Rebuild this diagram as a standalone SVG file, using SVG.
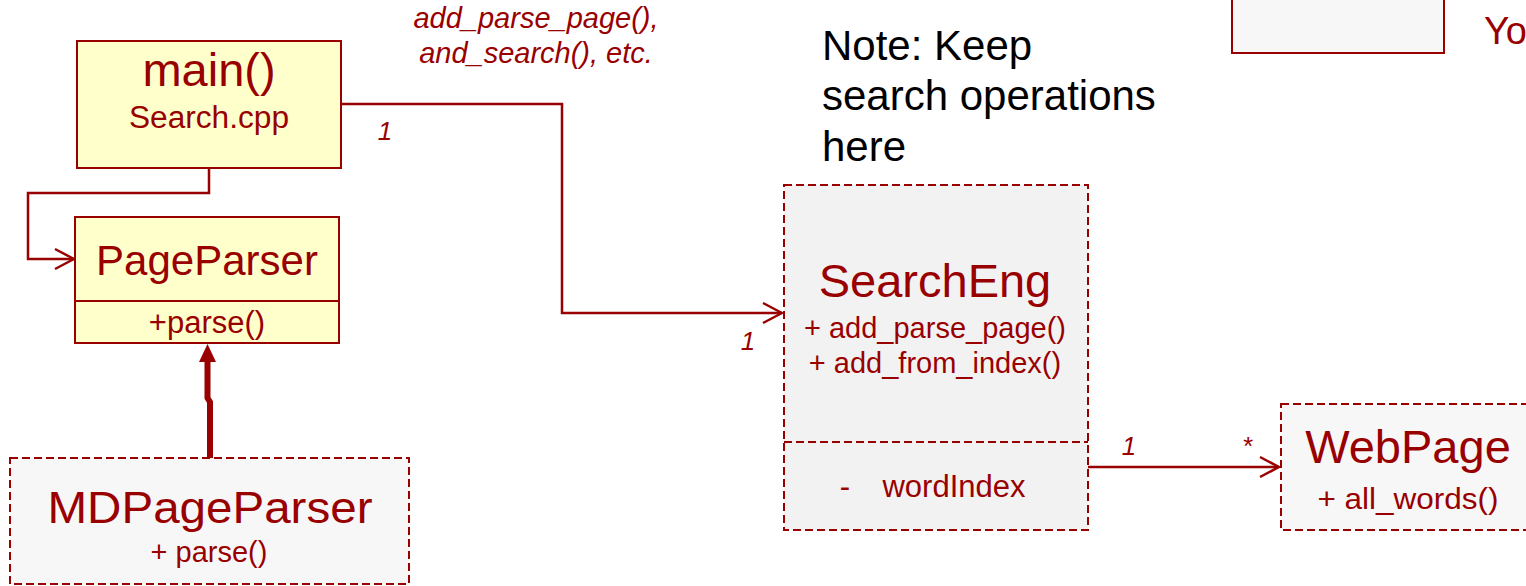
<svg xmlns="http://www.w3.org/2000/svg" width="1526" height="586" viewBox="0 0 1526 586">
<style>
text{font-family:"Liberation Sans",Arial,sans-serif;fill:#990000;text-anchor:middle}
.solid{stroke:#990000;stroke-width:2}
.yel{fill:#FFFFCC}
.dash{stroke:#990000;stroke-width:2;stroke-dasharray:8 4}
.conn{fill:none;stroke:#990000;stroke-width:2.5}
.lbl{font-style:italic;font-size:26px}
.note{fill:#000;text-anchor:start;font-size:42px}
</style>
<defs>
<marker id="open" markerUnits="userSpaceOnUse" markerWidth="24" markerHeight="24" viewBox="-22 -12 24 24" refX="0" refY="0" orient="auto">
<path d="M-19,-10 L0,0 L-19,10" fill="none" stroke="#990000" stroke-width="2.5"/>
</marker>
</defs>

<g id="topbox">
<rect x="1232" y="-4" width="212" height="57" fill="#F7F7F7" class="solid"/>
<text x="1484" y="44" style="text-anchor:start;font-size:38px">Yo</text>
</g>

<g id="note">
<text class="note" x="822" y="60">Note: Keep</text>
<text class="note" x="822" y="110">search operations</text>
<text class="note" x="822" y="161">here</text>
</g>

<g id="connectors">
<polyline class="conn" points="209,168 209,193 28,193 28,259 74,259" marker-end="url(#open)"/>
<polyline class="conn" points="341,104 562,104 562,313 782,313" marker-end="url(#open)"/>
<line class="conn" x1="1088" y1="467" x2="1279" y2="467" marker-end="url(#open)"/>
<path d="M210,458 L210,402 L207.5,398 L207.5,358" fill="none" stroke="#990000" stroke-width="6"/>
<polygon points="207.5,344 199,362 216,362" fill="#990000"/>
<text class="lbl" x="536" y="28" style="font-size:29px">add_parse_page(),</text>
<text class="lbl" x="536" y="63" style="font-size:29px">and_search(), etc.</text>
<text class="lbl" x="385" y="140">1</text>
<text class="lbl" x="748" y="350">1</text>
<text class="lbl" x="1129" y="455">1</text>
<text class="lbl" x="1247" y="455">*</text>
</g>

<g id="main">
<rect x="77" y="41" width="264" height="127" class="solid yel"/>
<text x="209" y="86" style="font-size:47px">main()</text>
<text x="209" y="128" style="font-size:31px" textLength="160" lengthAdjust="spacingAndGlyphs">Search.cpp</text>
</g>

<g id="PageParser">
<rect x="75" y="217" width="264" height="126" class="solid yel"/>
<line x1="75" y1="301" x2="339" y2="301" class="solid"/>
<text x="207" y="275" style="font-size:42px">PageParser</text>
<text x="207" y="333" style="font-size:31px">+parse()</text>
</g>

<g id="MDPageParser">
<rect x="10" y="458" width="399" height="126" fill="#F7F7F7" class="dash"/>
<text x="210" y="523" style="font-size:45px" textLength="325" lengthAdjust="spacingAndGlyphs">MDPageParser</text>
<text x="209" y="562" style="font-size:29px">+ parse()</text>
</g>

<g id="SearchEng">
<rect x="784" y="185" width="304" height="345" fill="#F2F2F2" class="dash"/>
<line x1="784" y1="442" x2="1088" y2="442" class="dash"/>
<text x="935" y="297" style="font-size:47px">SearchEng</text>
<text x="935" y="338" style="font-size:29px">+ add_parse_page()</text>
<text x="935" y="373" style="font-size:29px">+ add_from_index()</text>
<text x="845" y="497" style="font-size:31px">-</text>
<text x="954" y="497" style="font-size:31px">wordIndex</text>
</g>

<g id="WebPage">
<rect x="1281" y="404" width="260" height="126" fill="#F7F7F7" class="dash"/>
<text x="1408" y="463" style="font-size:47px">WebPage</text>
<text x="1408" y="509" style="font-size:30px" textLength="181" lengthAdjust="spacingAndGlyphs">+ all_words()</text>
</g>
</svg>
